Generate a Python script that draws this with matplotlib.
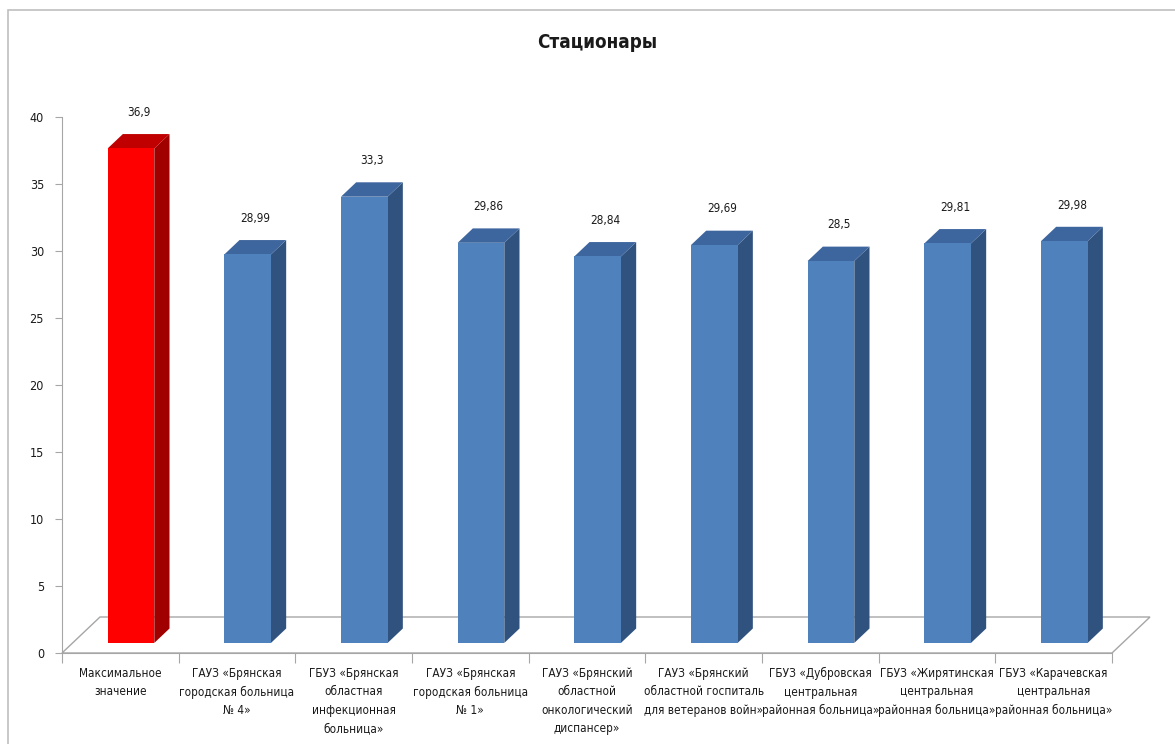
import matplotlib
matplotlib.use("Agg")
import os
import matplotlib.pyplot as plt
from matplotlib.patches import Polygon, Rectangle
from matplotlib import font_manager

categories = [
    "Максимальное\nзначение",
    "ГАУЗ «Брянская\nгородская больница\n№ 4»",
    "ГБУЗ «Брянская\nобластная\nинфекционная\nбольница»",
    "ГАУЗ «Брянская\nгородская больница\n№ 1»",
    "ГАУЗ «Брянский\nобластной\nонкологический\nдиспансер»",
    "ГАУЗ «Брянский\nобластной госпиталь\nдля ветеранов войн»",
    "ГБУЗ «Дубровская\nцентральная\nрайонная больница»",
    "ГБУЗ «Жирятинская\nцентральная\nрайонная больница»",
    "ГБУЗ «Карачевская\nцентральная\nрайонная больница»",
]
values = [36.9, 28.99, 33.3, 29.86, 28.84, 29.69, 28.5, 29.81, 29.98]
value_labels = ["36,9", "28,99", "33,3", "29,86", "28,84", "29,69", "28,5", "29,81", "29,98"]
y_ticks = [0, 5, 10, 15, 20, 25, 30, 35, 40]
title = "Стационары"

# look for a narrow / condensed font with Cyrillic
narrow = None
narrow_bold = None
prefs = ["LiberationSansNarrow-Regular", "DejaVuSansCondensed.ttf", "RobotoCondensed-Regular",
         "OpenSans_Condensed-Regular", "OpenSansCondensed", "NotoSans-Condensed.ttf", "NotoSansCondensed-Regular"]
prefs_b = ["LiberationSansNarrow-Bold.", "DejaVuSansCondensed-Bold.ttf", "RobotoCondensed-Bold",
           "OpenSans_Condensed-Bold", "NotoSans-CondensedBold", "NotoSansCondensed-Bold"]
files = [f.fname for f in font_manager.fontManager.ttflist]
for p in prefs:
    for fn in files:
        if p in os.path.basename(fn):
            narrow = fn
            break
    if narrow:
        break
for p in prefs_b:
    for fn in files:
        if p in os.path.basename(fn):
            narrow_bold = fn
            break
    if narrow_bold:
        break

plt.rcParams["font.family"] = ["Liberation Sans", "DejaVu Sans"]

def fp(size, bold=False):
    if bold and narrow_bold:
        return font_manager.FontProperties(fname=narrow_bold, size=size)
    if (not bold) and narrow:
        return font_manager.FontProperties(fname=narrow, size=size)
    return font_manager.FontProperties(family=["Liberation Sans", "DejaVu Sans"], size=size * 0.9,
                                       weight="bold" if bold else "normal")

W, H = 1175, 744
fig = plt.figure(figsize=(W / 100, H / 100), dpi=100)
fig.patch.set_facecolor("white")

fig.patches.append(Rectangle((8 / W, -0.01), 1.02, 1 - 10 / H + 0.01, transform=fig.transFigure,
                             fill=False, edgecolor="#BFBFBF", linewidth=1.2))

x0, x1 = 62, 1112
yb, yt = 653, 117
ax = fig.add_axes([x0 / W, 1 - yb / H, (x1 - x0) / W, (yb - yt) / H])
n = len(values)
ax.set_xlim(-0.5, n - 0.5)
ax.set_ylim(0, 40)

px_x = (x1 - x0) / n
px_y = (yb - yt) / 40
DX, DY = 38 / px_x, 36 / px_y
front, back = 0.28, 0.68
half = 0.2

floor_col = "#A6A6A6"
floor = Polygon([(-0.5, 0), (n - 0.5, 0), (n - 0.5 + DX, DY), (-0.5 + DX, DY)], closed=True,
                facecolor="white", edgecolor=floor_col, linewidth=1.0, clip_on=False, zorder=1)
ax.add_patch(floor)

for i, v in enumerate(values):
    if i == 0:
        fc, tc, sc = "#FF0000", "#C00000", "#A00000"
    else:
        fc, tc, sc = "#4F81BD", "#3D659E", "#30527F"
    xl = i - half + front * DX
    xr = i + half + front * DX
    y0 = front * DY
    y1 = y0 + v
    ddx, ddy = (back - front) * DX, (back - front) * DY
    ax.add_patch(Polygon([(xr, y0), (xr + ddx, y0 + ddy), (xr + ddx, y1 + ddy), (xr, y1)],
                         closed=True, facecolor=sc, edgecolor="none", clip_on=False, zorder=3))
    ax.add_patch(Polygon([(xl, y1), (xr, y1), (xr + ddx, y1 + ddy), (xl + ddx, y1 + ddy)],
                         closed=True, facecolor=tc, edgecolor="none", clip_on=False, zorder=3))
    ax.add_patch(Rectangle((xl, y0), xr - xl, v, facecolor=fc, edgecolor="none", clip_on=False, zorder=4))
    ax.annotate(value_labels[i], xy=((xl + xr + ddx) / 2, y1 + ddy), xytext=(0, 11),
                textcoords="offset points", ha="center", va="bottom", fontproperties=fp(8.5),
                color="#1a1a1a")

for s in ["top", "right"]:
    ax.spines[s].set_visible(False)
ax.spines["left"].set_color(floor_col)
ax.spines["bottom"].set_color(floor_col)
ax.spines["bottom"].set_zorder(2)

ax.set_yticks(y_ticks)
ax.set_yticklabels([str(t) for t in y_ticks], color="#1a1a1a")
for t in ax.get_yticklabels():
    t.set_fontproperties(fp(9))
ax.tick_params(axis="y", direction="out", length=5, color=floor_col, pad=8)

ax.set_xticks([i - 0.5 for i in range(n + 1)])
ax.set_xticklabels([])
ax.tick_params(axis="x", which="major", direction="out", length=7, color=floor_col)
ax.set_xticks(list(range(n)), minor=True)
ax.set_xticklabels(categories, minor=True, color="#1a1a1a", linespacing=1.55, va="top")
for t in ax.get_xticklabels(minor=True):
    t.set_fontproperties(fp(8.5))
ax.tick_params(axis="x", which="minor", length=0, pad=10)
ax.patch.set_alpha(0)

fig.text(597 / W, 1 - 42 / H, title, ha="center", va="center", fontproperties=fp(13.5, bold=True),
         color="#1a1a1a")

fig.savefig("out.png", dpi=100, facecolor="white")
